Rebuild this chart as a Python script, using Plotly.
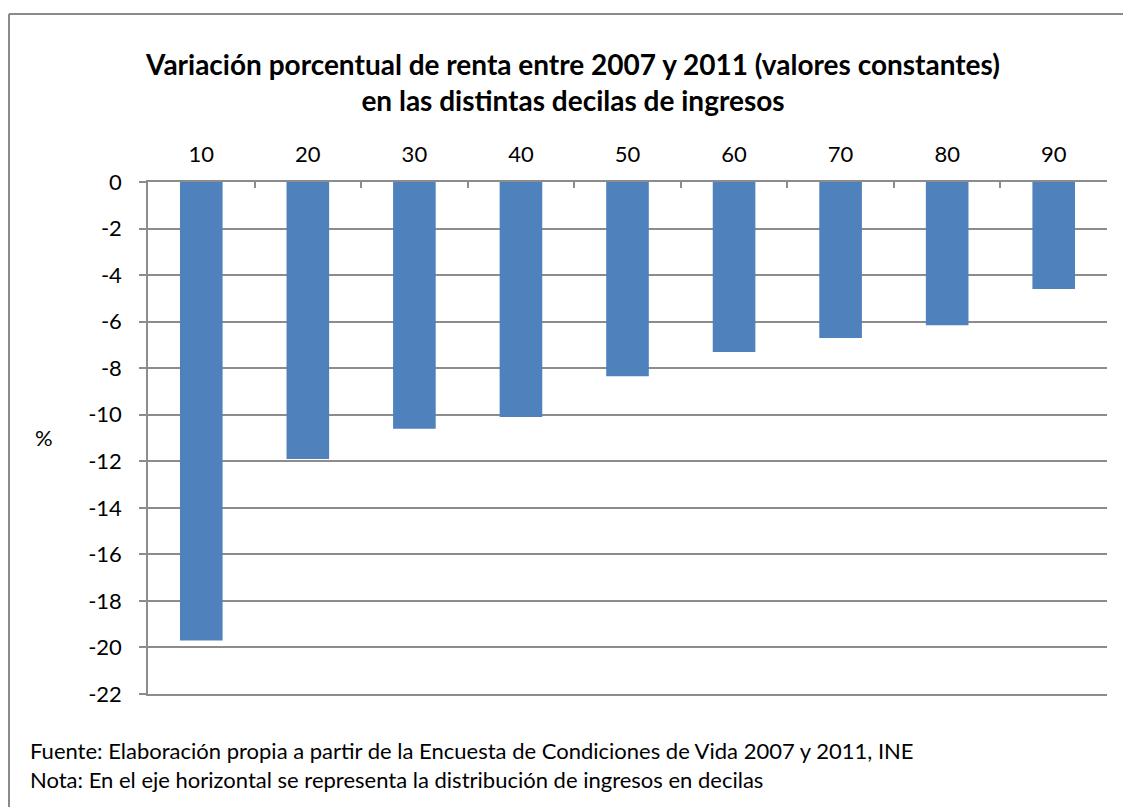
import plotly.graph_objects as go

deciles = ["10", "20", "30", "40", "50", "60", "70", "80", "90"]
variacion = [-19.7, -11.9, -10.6, -10.1, -8.35, -7.3, -6.7, -6.15, -4.6]
y_ticks = [0, -2, -4, -6, -8, -10, -12, -14, -16, -18, -20, -22]
y_tick_labels = ["0", "-2", "-4", "-6", "-8", "-10", "-12", "-14", "-16", "-18", "-20", "-22"]

W, H = 1123, 807
L, R, T, B = 148, 16, 182, 113
pw, ph = W - L - R, H - T - B

def px(x):
    return (x - L) / pw

def py(y):
    return (H - B - y) / ph

FONT = "Lato"
GRID = "#8c8c8c"

fig = go.Figure()
fig.add_trace(go.Bar(
    x=deciles, y=variacion,
    marker=dict(color="#4F81BD", line=dict(width=0)),
    width=0.4,
))

fig.update_layout(
    width=W, height=H,
    margin=dict(l=L, r=R, t=T, b=B),
    paper_bgcolor="white", plot_bgcolor="white",
    showlegend=False,
    font=dict(family=FONT, color="#000000"),
    title=dict(
        text="<b>Variación porcentual de renta entre 2007 y 2011 (valores constantes)<br>en las distintas decilas de ingresos</b>",
        x=(573) / W, xanchor="center",
        y=1 - 75 / H, yanchor="middle", yref="container",
        font=dict(family=FONT, size=28, color="#000000"),
    ),
    xaxis=dict(
        side="top", type="category",
        showline=True, mirror=True, linecolor=GRID, linewidth=1.5,
        ticks="inside", ticklen=6, tickcolor=GRID, tickwidth=1.5,
        tickson="boundaries",
        showgrid=False,
        tickfont=dict(family=FONT, size=22, color="#000000"),
        ticklabelstandoff=9,
    ),
    yaxis=dict(
        range=[-22, 0],
        tickvals=y_ticks, ticktext=y_tick_labels,
        showline=True, linecolor=GRID, linewidth=1.5,
        ticks="outside", ticklen=7, tickcolor=GRID, tickwidth=1.5,
        showgrid=True, gridcolor=GRID, gridwidth=1.5,
        zeroline=False,
        tickfont=dict(family=FONT, size=22, color="#000000"),
        ticklabelstandoff=13,
    ),
)

# outer frame (top and left edges visible)
fig.add_shape(type="line", xref="paper", yref="paper",
              x0=px(9), x1=px(W + 5), y0=py(14), y1=py(14),
              line=dict(color="#8a8a8a", width=2))
fig.add_shape(type="line", xref="paper", yref="paper",
              x0=px(9), x1=px(9), y0=py(14), y1=py(H + 5),
              line=dict(color="#8a8a8a", width=2))

fig.add_annotation(text="%", xref="paper", yref="paper",
                   x=px(44), y=py(437), xanchor="center", yanchor="middle",
                   showarrow=False, font=dict(family=FONT, size=22, color="#000000"))

fig.add_annotation(text="Fuente: Elaboración propia a partir de la Encuesta de Condiciones de Vida 2007 y 2011, INE",
                   xref="paper", yref="paper", x=px(28), y=py(750),
                   xanchor="left", yanchor="middle", showarrow=False,
                   font=dict(family=FONT, size=22, color="#000000"))
fig.add_annotation(text="Nota: En el eje horizontal se representa la distribución de ingresos en decilas",
                   xref="paper", yref="paper", x=px(28), y=py(779),
                   xanchor="left", yanchor="middle", showarrow=False,
                   font=dict(family=FONT, size=22, color="#000000"))

fig.write_html("out.html", config={"displayModeBar": False},
               post_script="document.body.style.margin='0';document.body.style.padding='0';document.body.style.overflow='hidden';")
